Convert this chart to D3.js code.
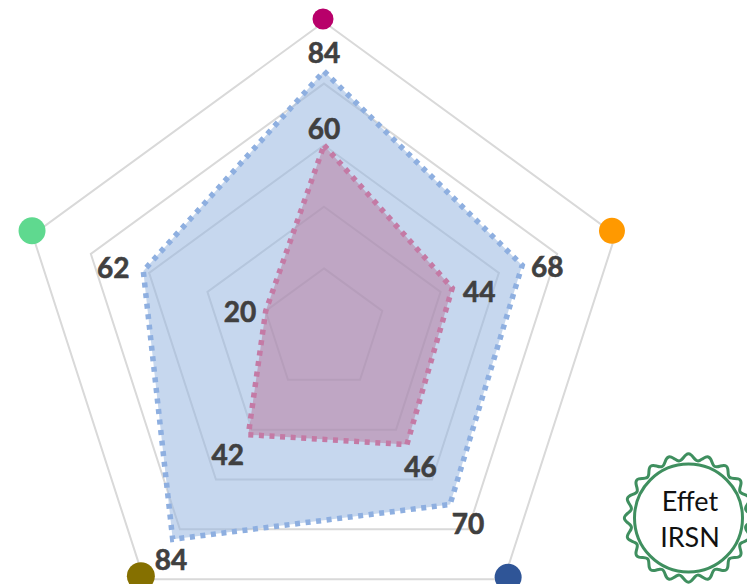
<!DOCTYPE html>
<html><head><meta charset="utf-8">
<script src="https://cdn.jsdelivr.net/npm/d3@7"></script>
<style>html,body{margin:0;padding:0;background:#fff;overflow:hidden}svg{display:block}</style>
</head><body><div id="c"></div>
<script>
const axes = ["A","B","C","D","E"];
const seriesBlue = [84,68,70,84,62];
const seriesRed = [60,44,46,42,20];
const ringValues = [20,40,60,80,100];
const dotColors = ["#B8006A","#FF9900","#2F5597","#857000","#5FD98F"];
const W=747,H=584,cx=324,cy=330;
const svg=d3.select("#c").append("svg").attr("width",W).attr("height",H);
const r=d3.scaleLinear().domain([0,100]).range([0,308]);
const ang=d3.scalePoint().domain(axes.concat("_")).range([0,2*Math.PI]);
const pt=(a,v)=>{const t=ang(a);return [cx+0.995*r(v)*Math.sin(t),cy-r(v)*Math.cos(t)];};
const poly=vals=>vals.map((v,i)=>pt(axes[i],v));
const line=d3.line().curve(d3.curveLinearClosed);
svg.selectAll("path.ring").data(ringValues).join("path").attr("class","ring")
 .attr("d",v=>line(axes.map(a=>pt(a,v)))).attr("fill","none").attr("stroke","#D9D9D9").attr("stroke-width",2);
svg.append("path").attr("d",line(poly(seriesBlue))).attr("fill","#97B6E0").attr("fill-opacity",.55)
 .attr("stroke","#8EAFE0").attr("stroke-width",5.5).attr("stroke-dasharray","5 5.6");
svg.append("path").attr("d",line(poly(seriesRed))).attr("fill","#B8759A").attr("fill-opacity",.5)
 .attr("stroke","#C47AA5").attr("stroke-width",5.5).attr("stroke-dasharray","5 5.6");
const dotR=[10.5,13,13.5,14,13.5];
const dotNudge=[[-1,-3],[-3.5,-4],[4,-2],[-3,-3],[-0.5,-4]];
svg.selectAll("circle.dot").data(axes).join("circle").attr("class","dot")
 .attr("cx",(a,i)=>pt(a,100)[0]+dotNudge[i][0]).attr("cy",(a,i)=>pt(a,100)[1]+dotNudge[i][1])
 .attr("r",(a,i)=>dotR[i]).attr("fill",(a,i)=>dotColors[i]);
const blueOff=[[0,-19.5],[25,1],[18,19],[-1.7,20],[-30,-4]];
const redOff=[[0,-17],[27,3],[13.6,21],[-20.7,19],[-25.7,0]];
const lab=(vals,off)=>vals.forEach((v,i)=>{const p=pt(axes[i],v);
 svg.append("text").attr("x",p[0]+off[i][0]).attr("y",p[1]+off[i][1]).attr("text-anchor","middle").attr("dominant-baseline","central")
 .attr("font-family","Lato,sans-serif").attr("font-weight",700).attr("font-size",28).attr("fill","#404040").attr("stroke","#404040").attr("stroke-width",.6).text(v);});
lab(seriesBlue,blueOff);lab(seriesRed,redOff);
// seal
const sx=688.5,sy=518;
const g="#3F8F5F";
const wave=d3.lineRadial().curve(d3.curveBasisClosed).angle(d=>d).radius(d=>61+3.5*Math.cos(20*d));
svg.append("path").attr("transform",`translate(${sx},${sy})`).attr("d",wave(d3.range(0,2*Math.PI,Math.PI/80))).attr("fill","none").attr("stroke",g).attr("stroke-width",3);
svg.append("circle").attr("cx",sx).attr("cy",sy).attr("r",54).attr("fill","#fff").attr("stroke",g).attr("stroke-width",3);
svg.append("text").attr("x",690).attr("y",511).attr("text-anchor","middle").attr("font-family","Lato,sans-serif").attr("font-size",27).attr("fill","#111").text("Effet");
svg.append("text").attr("x",690).attr("y",547).attr("text-anchor","middle").attr("font-family","Lato,sans-serif").attr("font-size",27).attr("fill","#111").text("IRSN");
</script></body></html>
